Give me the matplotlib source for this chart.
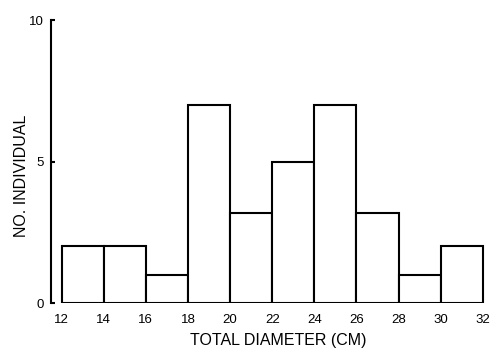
"""
Histogram of total diameter, redrawn in matplotlib.
"""

import matplotlib
matplotlib.use("Agg")
import matplotlib.pyplot as plt

#####################################
# Data
#####################################

bin_edges = [12, 14, 16, 18, 20, 22, 24, 26, 28, 30, 32]
counts = [2, 2, 1, 7, 3.2, 5, 7, 3.2, 1, 2]
x_ticks = [12, 14, 16, 18, 20, 22, 24, 26, 28, 30, 32]
y_ticks = [0, 5, 10]

#####################################
# Figure
#####################################

plt.rcParams["font.family"] = ["Liberation Sans", "DejaVu Sans"]

fig = plt.figure(figsize=(4.96, 3.52), dpi=100)
ax = fig.add_axes([0.103, 0.139, 0.879, 0.804])

lefts = bin_edges[:-1]
widths = [b - a for a, b in zip(bin_edges[:-1], bin_edges[1:])]
ax.bar(lefts, counts, width=widths, align="edge",
       facecolor="white", edgecolor="black", linewidth=1.5)

ax.set_xlim(11.5, 32.2)
ax.set_ylim(0, 10)

ax.spines["top"].set_visible(False)
ax.spines["right"].set_visible(False)
ax.spines["bottom"].set_visible(False)
ax.spines["left"].set_linewidth(1.5)

ax.set_xticks(x_ticks)
ax.set_yticks(y_ticks)
ax.tick_params(axis="x", length=0, pad=8, labelsize=9.5)
ax.tick_params(axis="y", direction="in", length=3, width=1.5, pad=5, labelsize=9.5)

# axis titles placed where the reference has them
ax.set_xlabel("TOTAL DIAMETER (CM)", fontsize=11.5, fontweight="medium")
ax.xaxis.set_label_coords(0.52, -0.105)
ax.set_ylabel("NO. INDIVIDUAL", fontsize=11.5, fontweight="medium")
ax.yaxis.set_label_coords(-0.05, 0.45)

fig.savefig("out.png", dpi=100)
